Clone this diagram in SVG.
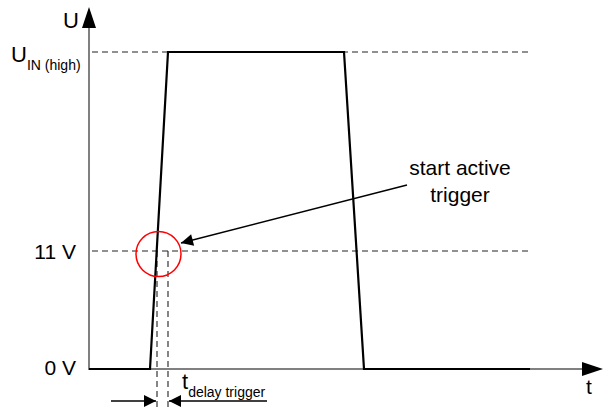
<svg xmlns="http://www.w3.org/2000/svg" width="604" height="413" viewBox="0 0 604 413">
<style>
text{font-family:"Liberation Sans",Arial,sans-serif;fill:#000}
.lbl{font-size:21px}
.big{font-size:22px}
.sub{font-size:14px}
.dash{stroke:#222;stroke-width:1.1;stroke-dasharray:6,4;fill:none}
.axis{stroke:#808080;stroke-width:2;fill:none}
.sig{stroke:#000;stroke-width:2.2;fill:none;stroke-linejoin:miter}
.conn{stroke:#000;stroke-width:1.3;fill:none}
</style>
<defs>
<marker id="ah" viewBox="0 0 10 10" refX="10" refY="5" markerWidth="15" markerHeight="12" markerUnits="userSpaceOnUse" orient="auto">
<path d="M0,0 L10,5 L0,10 Z" fill="#000"/>
</marker>
</defs>
<rect width="604" height="413" fill="#fff"/>
<g id="grid">
<line class="dash" x1="92" y1="52" x2="530" y2="52"/>
<line class="dash" x1="92" y1="251" x2="530" y2="251"/>
<line class="dash" x1="157" y1="251" x2="157" y2="410"/>
<line class="dash" x1="168" y1="251" x2="168" y2="410"/>
</g>
<g id="axes">
<line class="axis" x1="89" y1="370" x2="89" y2="26"/>
<path d="M89,7 L82,28 L96,28 Z" fill="#000"/>
<line class="axis" x1="89" y1="369" x2="584" y2="369"/>
<path d="M603,369 L582,362 L582,376 Z" fill="#000"/>
<text class="big" x="63" y="28">U</text>
<text class="lbl" x="586" y="394">t</text>
</g>
<g id="signal">
<path class="sig" d="M89,369 L150,369 L168,52 L344,52 L364,369 L530,369"/>
</g>
<g id="labels">
<text class="big" x="11" y="62">U<tspan class="sub" dy="8">IN (high)</tspan></text>
<text class="lbl" x="76" y="259" text-anchor="end">11 V</text>
<text class="lbl" x="76" y="375" text-anchor="end">0 V</text>
<text class="lbl" x="460" y="175" text-anchor="middle">start active</text>
<text class="lbl" x="460" y="202" text-anchor="middle">trigger</text>
<text class="big" x="182" y="389">t<tspan class="sub" dy="8">delay trigger</tspan></text>
</g>
<g id="marker-circle">
<circle cx="158.5" cy="254" r="22.5" fill="none" stroke="#ff0000" stroke-width="1.5"/>
</g>
<g id="connectors">
<line class="conn" x1="407" y1="185" x2="181" y2="243" marker-end="url(#ah)"/>
<line class="conn" x1="111" y1="401" x2="156" y2="401" marker-end="url(#ah)"/>
<line class="conn" x1="267" y1="401" x2="169" y2="401" marker-end="url(#ah)"/>
</g>
</svg>
